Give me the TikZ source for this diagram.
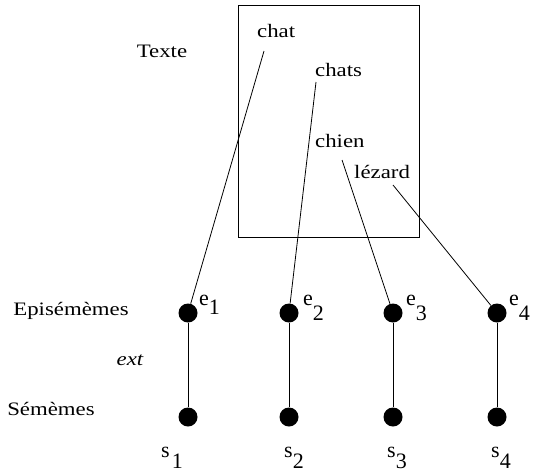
\documentclass[tikz,border=0pt]{standalone}
\usepackage{fontspec}
\setmainfont{Liberation Serif}[FakeStretch=1.2]
\newfontfamily\labfont{Liberation Serif}
\begin{document}
\begin{tikzpicture}[x=1pt,y=-1pt,
  lab/.style={font=\fontsize{19}{21}\selectfont, inner sep=0pt},
  sub/.style={font=\labfont\fontsize{22}{24}\selectfont, inner sep=0pt, anchor=base west},
  dot/.style={circle, fill=black, minimum size=19pt, inner sep=0pt},
  link/.style={line width=0.8pt}]
\useasboundingbox (0,0) rectangle (534,472);
\node[draw, line width=0.8pt, minimum width=181pt, minimum height=232pt, inner sep=0pt] (box) at (328.5,121) {};
\node[lab, anchor=base west] (tchat) at (257,37) {chat};
\node[lab, anchor=base west] (tchats) at (315,76) {chats};
\node[lab, anchor=base west] (tchien) at (315,147) {chien};
\node[lab, anchor=base west] (tlez) at (354,178) {lézard};
\node[lab, anchor=base] (texte) at (162,57) {Texte};
\node[lab, anchor=base] (epi) at (71,315) {Episémèmes};
\node[lab, anchor=base] (ext) at (130,365) {\itshape ext};
\node[lab, anchor=base] (sem) at (51,415) {Sémèmes};
\foreach \i/\x in {1/188,2/289,3/393,4/497}{
  \node[dot] (e\i) at (\x,313) {};
  \node[dot] (s\i) at (\x,417) {};
  \draw[link] (e\i) -- (s\i);
}
\node[sub] (le1) at (199,305) {e\raisebox{-9pt}{1}};
\node[sub] (le2) at (303,305) {e\raisebox{-15pt}{2}};
\node[sub] (le3) at (406,305) {e\raisebox{-15pt}{3}};
\node[sub] (le4) at (509,305) {e\raisebox{-15pt}{4}};
\node[sub] (ls1) at (161,457) {s\kern2pt\raisebox{-11pt}{1}};
\node[sub] (ls2) at (284,457) {s\raisebox{-11pt}{2}};
\node[sub] (ls3) at (387,457) {s\raisebox{-11pt}{3}};
\node[sub] (ls4) at (491,457) {s\raisebox{-11pt}{4}};
\coordinate (c1) at (264,51);
\coordinate (c2) at (316,82);
\coordinate (c3) at (342,160);
\coordinate (c4) at (393,185);
\draw[link] (c1) -- (e1);
\draw[link] (c2) -- (e2);
\draw[link] (c3) -- (e3);
\draw[link] (c4) -- (e4);
\end{tikzpicture}
\end{document}
